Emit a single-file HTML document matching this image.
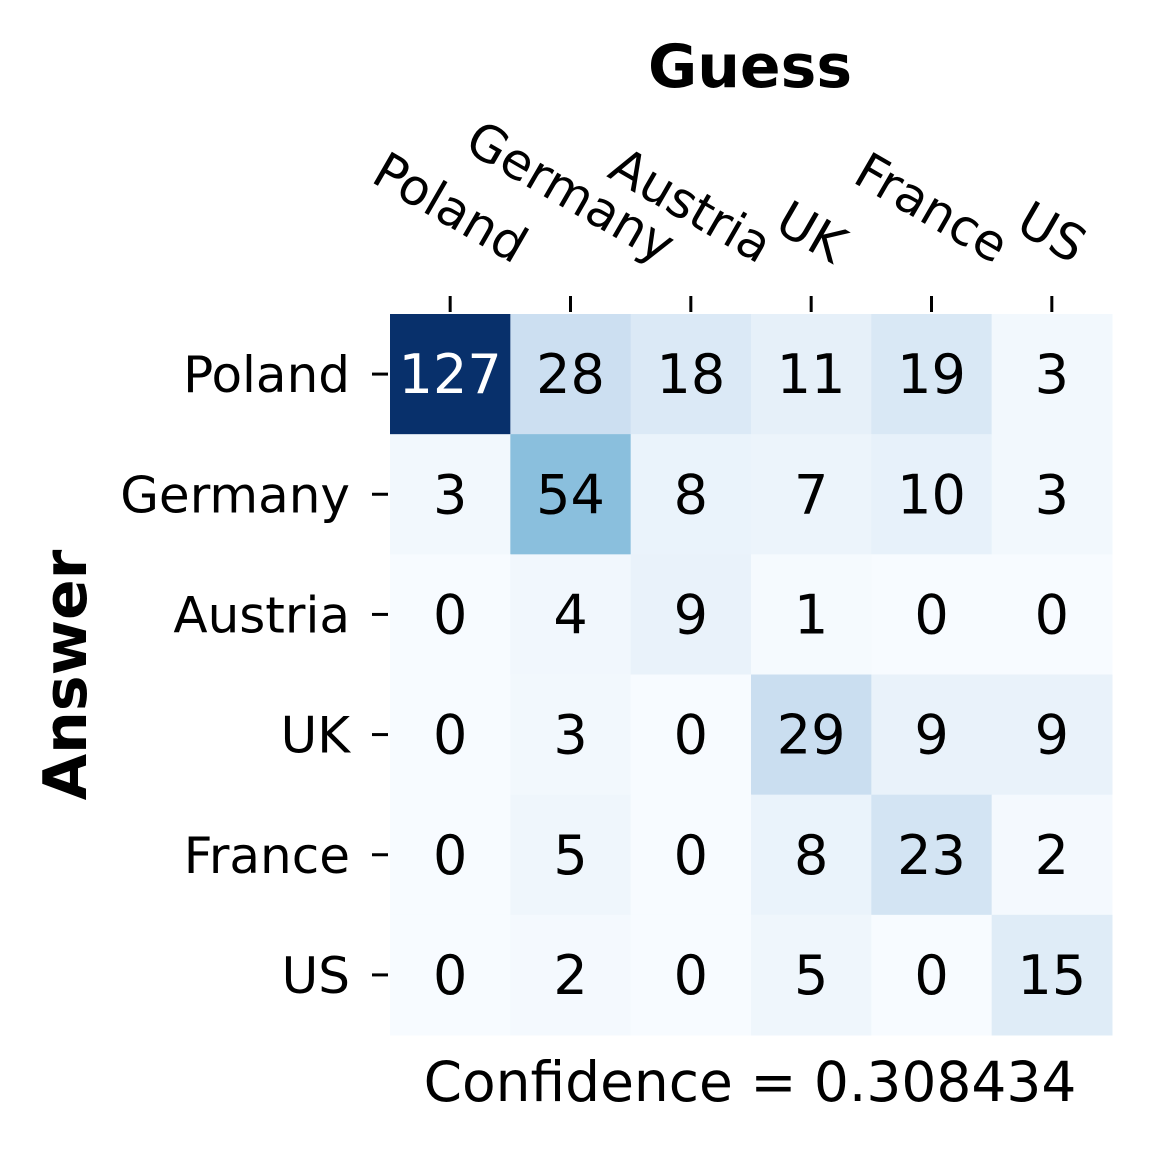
<!DOCTYPE html>
<html><head><meta charset="utf-8"><style>
html,body{margin:0;padding:0;background:#fff;}
svg{display:block;font-family:"DejaVu Sans","Liberation Sans",sans-serif;}
</style></head><body>
<svg id="chart" width="1151" height="1152" viewBox="0 0 1151 1152" xmlns="http://www.w3.org/2000/svg">
<rect width="1151" height="1152" fill="#fff"/>
<text x="750" y="87" text-anchor="middle" font-size="60" font-weight="bold">Guess</text>
<text transform="translate(86,675) rotate(-90)" text-anchor="middle" font-size="60" font-weight="bold">Answer</text>
<text x="750" y="1101" text-anchor="middle" font-size="55">Confidence = 0.308434</text>
<g id="cells"></g><g id="labels"></g>
</svg>
<script>
const guessLabels = ["Poland","Germany","Austria","UK","France","US"];
const answerLabels = ["Poland","Germany","Austria","UK","France","US"];
const row0 = [127,28,18,11,19,3];
const row1 = [3,54,8,7,10,3];
const row2 = [0,4,9,1,0,0];
const row3 = [0,3,0,29,9,9];
const row4 = [0,5,0,8,23,2];
const row5 = [0,2,0,5,0,15];
const matrix = [row0,row1,row2,row3,row4,row5];

const NS="http://www.w3.org/2000/svg";
const cells=document.getElementById('cells');
const labels=document.getElementById('labels');
const x0=390,x1=1112,y0=314,y1=1035;
const cw=(x1-x0)/guessLabels.length, ch=(y1-y0)/answerLabels.length;
const xPos=i=>x0+i*cw, yPos=j=>y0+j*ch;
const blues=["#f7fbff","#deebf7","#c6dbef","#9ecae1","#6baed6","#4292c6","#2171b5","#08519c","#08306b"];
let vmax=0;matrix.forEach(r=>r.forEach(v=>{if(v>vmax)vmax=v;}));
function hex(h){return [1,3,5].map(k=>parseInt(h.substr(k,2),16));}
function color(v){
  let t=Math.max(0,Math.min(1,v/vmax))*(blues.length-1);
  let i=Math.min(Math.floor(t),blues.length-2),f=t-i;
  const a=hex(blues[i]),b=hex(blues[i+1]);
  return 'rgb('+a.map((c,k)=>Math.round(c+(b[k]-c)*f)).join(',')+')';
}
function mk(tag,attrs,parent){const e=document.createElementNS(NS,tag);for(const k in attrs)e.setAttribute(k,attrs[k]);parent.appendChild(e);return e;}
matrix.forEach((r,j)=>r.forEach((v,i)=>{
  const rc=mk('rect',{x:xPos(i),y:yPos(j),width:cw+0.5,height:ch+0.5,fill:color(v)},cells);
  
  
  const t=mk('text',{x:xPos(i)+cw/2,y:yPos(j)+ch/2+19,'text-anchor':'middle','font-size':54,fill:(v/vmax>0.6?'#fff':'#000')},cells);
  t.textContent=v;
  
  
}));
answerLabels.forEach((l,j)=>{
  const cy=yPos(j)+ch/2;
  const tk=mk('line',{x1:372,x2:388,y1:cy,y2:cy,stroke:'#000','stroke-width':3},labels);
  
  
  const t=mk('text',{x:350,y:cy+18,'text-anchor':'end','font-size':50},labels);
  t.textContent=l;
  
  
});
guessLabels.forEach((l,i)=>{
  const cx=xPos(i)+cw/2;
  const tk=mk('line',{x1:cx,x2:cx,y1:296,y2:312,stroke:'#000','stroke-width':3},labels);
  
  
  const t=mk('text',{x:0,y:0,'text-anchor':'middle','dominant-baseline':'central','font-size':50},labels);
  t.textContent=l;
  
  
  const w=t.getComputedTextLength(),h=50;
  const half=(w/2)*0.5+(h/2)*0.866*0.85;
  t.setAttribute('transform','translate('+cx+','+(268-half)+') rotate(30)');
});
</script>
</body></html>
